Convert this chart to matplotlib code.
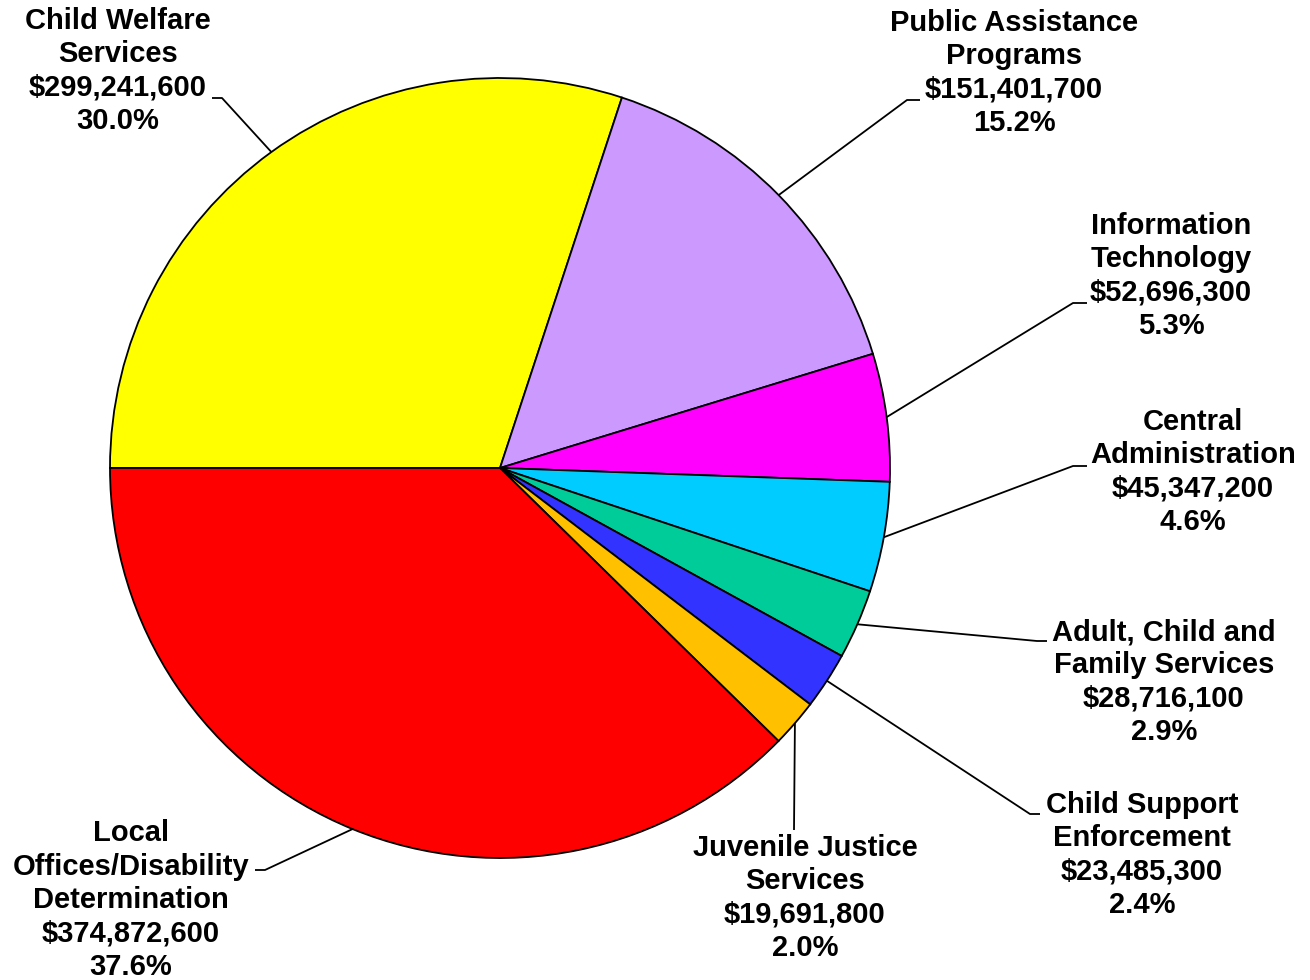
import numpy as np
import matplotlib.pyplot as plt

plt.rcParams['font.family'] = ['Liberation Sans', 'DejaVu Sans']

categories = ['Child Welfare\nServices', 'Public Assistance\nPrograms', 'Information\nTechnology',
              'Central\nAdministration', 'Adult, Child and\nFamily Services', 'Child Support\nEnforcement',
              'Juvenile Justice\nServices', 'Local\nOffices/Disability\nDetermination']
amounts = [299241600, 151401700, 52696300, 45347200, 28716100, 23485300, 19691800, 374872600]
pct_labels = ['30.0%', '15.2%', '5.3%', '4.6%', '2.9%', '2.4%', '2.0%', '37.6%']
colors = ['#FFFF00', '#CC99FF', '#FF00FF', '#00CCFF', '#00CC99', '#3333FF', '#FFC000', '#FF0000']

# layout in picture pixels: pie centre / radius, label centres, leader elbows
CX, CY, R = 500, 468, 390
W, H = 1310, 980
label_pos = [(118, 71), (1014, 73), (1171, 276), (1193, 472), (1164, 682), (1142, 855), (805, 898), (131, 900)]
elbows = [[(222, 98), (212, 98)], [(907, 100), (920, 100)], [(1073, 303), (1087, 303)],
          [(1073, 466), (1087, 466)], [(1037, 641), (1047, 641)], [(1030, 814), (1040, 814)],
          [(794, 830)], [(265, 870), (255, 870)]]


def px(x, y):
    return (x - CX) / R, (CY - y) / R


fig = plt.figure(figsize=(W / 100, H / 100), dpi=100)
ax = fig.add_axes([0, 0, 1, 1])
ax.pie(amounts, colors=colors, startangle=180, counterclock=False, radius=1,
       wedgeprops=dict(edgecolor='black', linewidth=1.3))
ax.set_xlim(-CX / R, (W - CX) / R)
ax.set_ylim(-(H - CY) / R, CY / R)
ax.set_aspect('equal')
ax.axis('off')

total = float(sum(amounts))
cum = np.cumsum([0] + amounts[:-1])
for i, (cat, amt) in enumerate(zip(categories, amounts)):
    mid = np.deg2rad(180 - 360 * (cum[i] + amt / 2) / total)
    pts = [(np.cos(mid), np.sin(mid))] + [px(*p) for p in elbows[i]]
    xs, ys = zip(*pts)
    ax.plot(xs, ys, color='black', lw=1.3, solid_capstyle='butt')
    tx, ty = px(*label_pos[i])
    ax.text(tx, ty, f'{cat}\n${amt:,}\n{pct_labels[i]}', ha='center', va='center',
            multialignment='center', fontsize=21, fontweight='bold', linespacing=1.24)

fig.savefig('out.png', dpi=100)
